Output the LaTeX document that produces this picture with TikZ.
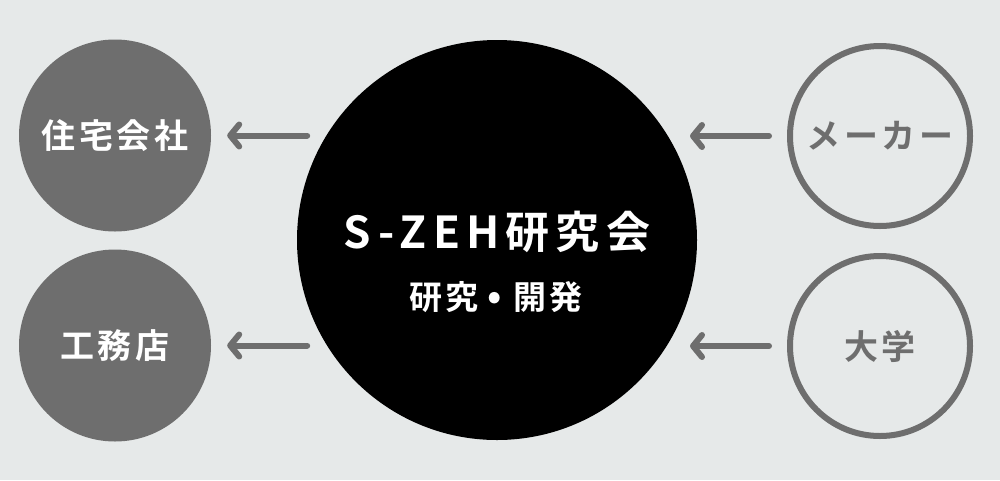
\documentclass[tikz,border=0pt]{standalone}
\usepackage{fontspec}
\newfontfamily\jpb[LetterSpace=10]{Noto Sans CJK JP Bold}
\newfontfamily\jpt[LetterSpace=14]{Noto Sans CJK JP Bold}
\usetikzlibrary{arrows.meta,calc}
\definecolor{bg}{HTML}{E6E9E9}
\definecolor{gr}{HTML}{6E6E6E}
\tikzset{
  filled/.style={circle,fill=gr,draw=none,minimum size=192pt,inner sep=0pt,text=white,font=\jpb\fontsize{34}{40}\selectfont},
  ring/.style={circle,draw=gr,line width=6pt,fill=none,minimum size=180pt,inner sep=0pt,text=gr,font=\jpb\fontsize{34}{40}\selectfont},
  arr/.style={draw=gr,line width=6pt,line cap=round,-{Straight Barb[length=9pt,width=22pt,round]}},
}
\begin{document}
\begin{tikzpicture}[x=1pt,y=-1pt]
\fill[bg] (0,0) rectangle (1000,480);
\useasboundingbox (0,0) rectangle (1000,480);
\node[circle,fill=black,minimum size=400pt,inner sep=0pt] (c) at (497,240) {};
\node[text=white,font=\jpb\fontsize{44}{50}\selectfont] (t1) at (497,232) {\jpt S-ZEH研究会};
\node[text=white,font=\jpb\fontsize{33}{38}\selectfont] (t2) at (496,297) {研究\hspace{9pt}\mbox{\fontsize{38}{38}\selectfont•}\hspace{12pt}開発};
\node[filled] (a) at (115,135.5) {住宅会社};
\node[filled] (b) at (115,345.5) {工務店};
\node[ring] (m) at (880,136) {メーカー};
\node[ring] (u) at (880,346) {大学};
\draw[arr] ([xshift=96pt]a.east) -- ([xshift=16pt]a.east);
\draw[arr] ([xshift=96pt]b.east) -- ([xshift=16pt]b.east);
\draw[arr] ([xshift=-18pt]m.west) -- ([xshift=-97pt]m.west);
\draw[arr] ([xshift=-18pt]u.west) -- ([xshift=-97pt]u.west);
\end{tikzpicture}
\end{document}
